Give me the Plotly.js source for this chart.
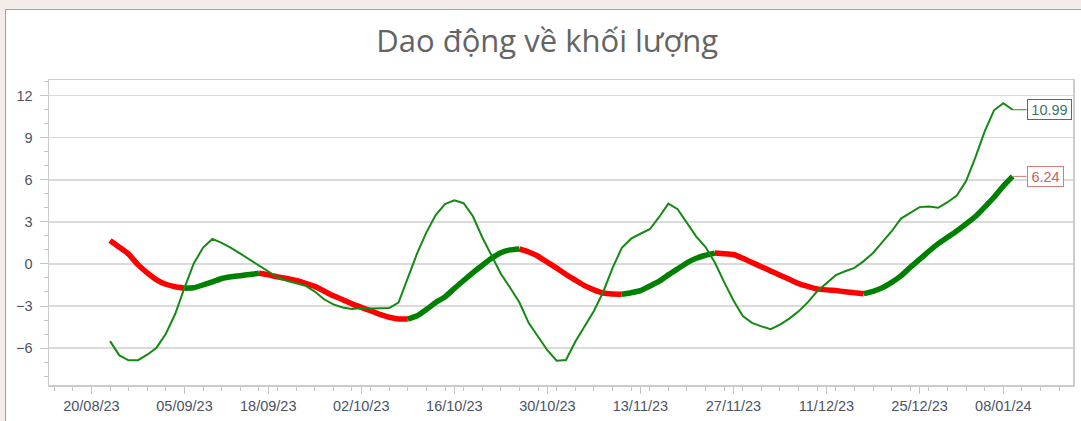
<!DOCTYPE html>
<html>
<head>
<meta charset="utf-8">
<script src="https://cdn.plot.ly/plotly-3.0.1.min.js"></script>
<style>
  html, body { margin: 0; padding: 0; width: 1081px; height: 421px; overflow: hidden; background: #f3ece9; }
  #frame { position: absolute; left: 5px; top: 9px; width: 1076px; height: 412px; border-left: 1px solid #a3a3a3; border-top: 1px solid #a3a3a3; background: #ffffff; }
  #chart { position: absolute; left: 0; top: 0; width: 1076px; height: 412px; }
</style>
</head>
<body>
<div id="frame"><div id="chart"></div></div>
<script>
// Trading-day oscillator (thin line), 22/08/2023 .. 09/01/2024
const oscillator = [
  -5.5, -6.52, -6.87, -6.86, -6.47, -5.97, -4.98, -3.57, -1.7, 0.03,
  1.17, 1.78, 1.5, 1.15, 0.73, 0.3, -0.08, -0.5, -0.95, -1.2,
  -1.36, -1.55, -1.97, -2.52, -2.88, -3.1, -3.22, -3.15, -3.18, -3.18,
  -3.15, -2.75, -1.05, 0.75, 2.25, 3.48, 4.27, 4.53, 4.33, 3.4,
  1.9, 0.55, -0.7, -1.7, -2.75, -4.22, -5.2, -6.15, -6.9, -6.85,
  -5.55, -4.45, -3.35, -2.0, -0.3, 1.15, 1.8, 2.15, 2.47, 3.33,
  4.3, 3.9, 2.9, 1.95, 1.2, 0.1, -1.3, -2.6, -3.72, -4.2,
  -4.45, -4.65, -4.33, -3.9, -3.38, -2.72, -1.95, -1.35, -0.8, -0.52,
  -0.28, 0.2, 0.78, 1.55, 2.33, 3.23, 3.67, 4.05, 4.1, 4.0,
  4.4, 4.88, 5.9, 7.6, 9.45, 10.95, 11.45, 10.99
];
// Smoothed signal (thick line)
const signal = [
  1.67, 1.19, 0.7, -0.05, -0.64, -1.13, -1.45, -1.63, -1.73, -1.7,
  -1.5, -1.28, -1.04, -0.92, -0.84, -0.75, -0.67, -0.78, -0.92, -1.04,
  -1.18, -1.38, -1.6, -1.93, -2.27, -2.55, -2.85, -3.1, -3.33, -3.6,
  -3.8, -3.92, -3.93, -3.7, -3.25, -2.75, -2.35, -1.75, -1.18, -0.62,
  -0.1, 0.4, 0.8, 1.0, 1.07, 0.85, 0.55, 0.12, -0.3, -0.75,
  -1.15, -1.55, -1.85, -2.07, -2.14, -2.16, -2.05, -1.9, -1.58, -1.25,
  -0.78, -0.35, 0.08, 0.4, 0.62, 0.77, 0.73, 0.67, 0.4, 0.1,
  -0.2, -0.5, -0.8, -1.1, -1.4, -1.6, -1.78, -1.85, -1.9, -1.98,
  -2.06, -2.12, -1.95, -1.7, -1.32, -0.85, -0.25, 0.32, 0.9, 1.45,
  1.9, 2.35, 2.85, 3.38, 4.05, 4.75, 5.55, 6.24
];
// Date tick labels and their trading-day index
const tickLabels = ["20/08/23", "05/09/23", "18/09/23", "02/10/23", "16/10/23", "30/10/23",
                    "13/11/23", "27/11/23", "11/12/23", "25/12/23", "08/01/24"];
const tickIndex = [-2, 8, 17, 27, 37, 47, 57, 67, 77, 87, 96];
const yTicks = [-6, -3, 0, 3, 6, 9, 12];

const dayIdx = oscillator.map((_, i) => i);

const GREEN = '#008000', RED = '#ff0000';
const traces = [];
// thick signal line: green while rising, red while falling
let start = 0;
const dirAt = i => signal[i + 1] >= signal[i];
for (let i = 1; i <= signal.length - 1; i++) {
  const end = (i === signal.length - 1) || dirAt(i) !== dirAt(start);
  if (end) {
    const xs = dayIdx.slice(start, i + 1), ys = signal.slice(start, i + 1);
    traces.push({
      x: xs, y: ys, type: 'scatter', mode: 'lines', hoverinfo: 'skip', showlegend: false,
      line: { color: dirAt(start) ? GREEN : RED, width: 5.5, shape: 'spline', smoothing: 0.4 }
    });
    start = i;
  }
}
traces.push({
  x: dayIdx, y: oscillator, type: 'scatter', mode: 'lines', showlegend: false,
  line: { color: '#148a14', width: 2 }
});

const last = oscillator.length - 1;
const tickFont = { family: 'Liberation Sans, Arial, sans-serif', size: 14.5, color: '#4b5364' };

const layout = {
  width: 1076, height: 412,
  paper_bgcolor: '#ffffff', plot_bgcolor: '#ffffff',
  margin: { l: 43, r: 9, t: 70, b: 37 },
  title: {
    text: 'Dao động về khối lượng',
    font: { family: 'Open Sans, sans-serif', size: 31, color: '#646464' },
    xref: 'container', x: 0.503, xanchor: 'center',
    yref: 'container', y: 0.925, yanchor: 'middle'
  },
  xaxis: {
    range: [-6.56, 103.49],
    tickmode: 'array', tickvals: tickIndex, ticktext: tickLabels,
    ticks: 'outside', ticklen: 7, tickcolor: '#c4c4c4', tickwidth: 1,
    minor: { ticks: 'outside', ticklen: 4, tickcolor: '#c4c4c4', dtick: 2, tick0: 0 },
    showgrid: false, zeroline: false,
    showline: true, linecolor: '#cccccc', linewidth: 1.5, mirror: true,
    tickfont: tickFont
  },
  yaxis: {
    range: [-8.63, 13.11],
    tickmode: 'array', tickvals: yTicks,
    ticks: 'outside', ticklen: 8, tickcolor: '#c4c4c4', tickwidth: 1,
    minor: { ticks: 'outside', ticklen: 4, tickcolor: '#c4c4c4', dtick: 1, tick0: 0 },
    showgrid: true, gridcolor: '#dadada', gridwidth: 1.5,
    zeroline: false,
    showline: true, linecolor: '#cccccc', linewidth: 1.5, mirror: true,
    ticklabelstandoff: 4,
    tickfont: tickFont
  },
  annotations: [
    {
      x: dayIdx[last], y: oscillator[last], xref: 'x', yref: 'y',
      text: oscillator[last].toFixed(2), showarrow: true, arrowhead: 0, arrowwidth: 1,
      arrowcolor: '#2d8a2d', ax: 14, ay: 0, xanchor: 'left',
      width: 39, height: 15,
      bordercolor: '#2d8a2d', borderwidth: 1, borderpad: 2, bgcolor: '#ffffff',
      font: { family: 'Liberation Sans, Arial, sans-serif', size: 14.5, color: '#3e7565' }
    },
    {
      x: dayIdx[last], y: signal[last], xref: 'x', yref: 'y',
      text: signal[last].toFixed(2), showarrow: true, arrowhead: 0, arrowwidth: 1,
      arrowcolor: '#d47b7b', ax: 14, ay: 0, xanchor: 'left',
      width: 31, height: 15,
      bordercolor: '#d47b7b', borderwidth: 1, borderpad: 2, bgcolor: '#ffffff',
      font: { family: 'Liberation Sans, Arial, sans-serif', size: 14.5, color: '#c76262' }
    }
  ]
};

Plotly.newPlot('chart', traces, layout, { staticPlot: true, displayModeBar: false });
</script>
</body>
</html>
